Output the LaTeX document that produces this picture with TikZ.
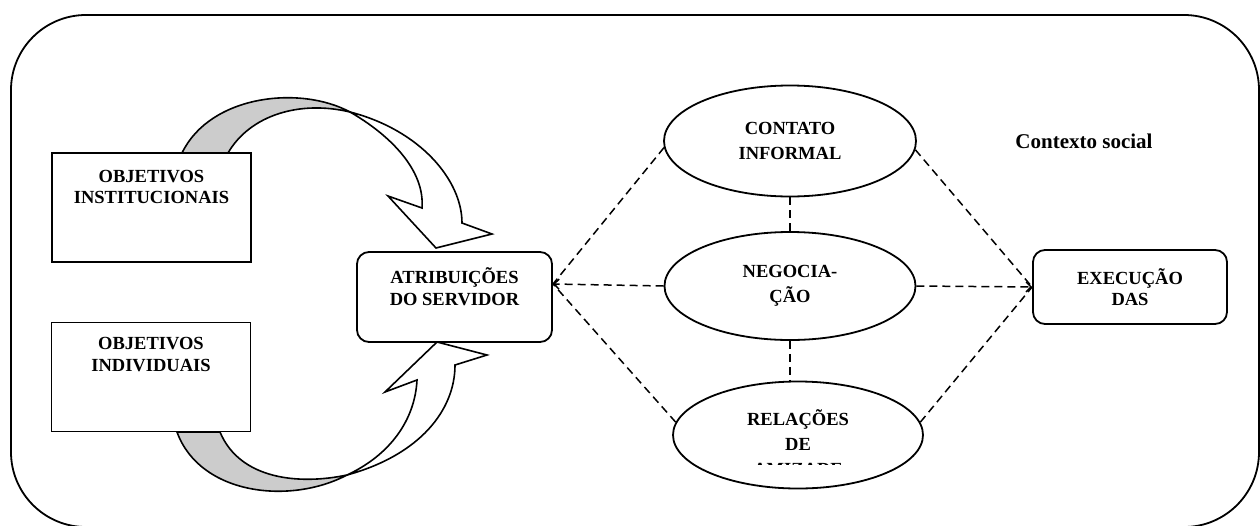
\documentclass[tikz,border=0pt]{standalone}
\usepackage{fontspec}
\setmainfont{Liberation Serif}
\usetikzlibrary{arrows.meta,positioning,shapes.geometric}

\begin{document}
\begin{tikzpicture}
[x=1pt,y=-1pt,line width=1.8pt,
 objbox/.style={draw,rectangle,minimum width=199pt,minimum height=109pt,inner sep=0pt},
 roundbox/.style={draw,rectangle,rounded corners=12pt,inner sep=0pt},
 oval/.style={draw,ellipse,inner sep=0pt},
 caps/.style={font=\fontsize{18.5}{21.5}\selectfont\bfseries,align=center,inner sep=0pt},
 ovalcaps/.style={font=\fontsize{18.5}{25}\selectfont\bfseries,align=center,inner sep=0pt},
 link/.style={dash pattern=on 8pt off 5pt,line width=1.5pt},
 ribbon/.style={draw,fill=black!20,line width=1.6pt},
 arrowbody/.style={draw,fill=white,line width=1.6pt}]
\useasboundingbox (0,0) rectangle (1260,525);
\draw[rounded corners=75pt] (11,15) rectangle (1259,527);

\node[objbox] (inst) at (151.5,207.5) {};
\node[caps, below=17pt of inst.north] (insttxt) {OBJETIVOS\\INSTITUCIONAIS};
\node[objbox] (indiv) at (151,377) {};
\node[caps, below=15pt of indiv.north] (indivtxt) {OBJETIVOS\\INDIVIDUAIS};

\node[roundbox, minimum width=195pt, minimum height=90pt] (atrib) at (454.5,297) {};
\node[caps, below=16pt of atrib.north] (atribtxt) {ATRIBUIÇÕES\\DO SERVIDOR};
\coordinate (atribin) at (553,284);

\node[roundbox, caps, minimum width=194pt, minimum height=74pt] (exec) at (1130,287) {EXECUÇÃO\\DAS};

\node[oval, ovalcaps, minimum width=252pt, minimum height=111pt] (contato) at (790,141) {CONTATO\\INFORMAL};
\node[oval, ovalcaps, minimum width=251pt, minimum height=108pt] (negoc) at (790,286) {NEGOCIA-\\ÇÃO};
\node[oval, minimum width=250pt, minimum height=107pt] (relac) at (798,435) {};
\begin{scope}
\clip (660,380) rectangle (940,464);
\node[ovalcaps] (relactxt) at (798,443) {RELAÇÕES\\DE\\AMIZADE};
\end{scope}

\node[font=\fontsize{21}{25}\selectfont\bfseries, anchor=base, inner sep=0pt] (ctx) at (1084,148) {Contexto social};

\draw[link] (contato.183) -- (atribin);
\draw[link, -{Straight Barb[length=5pt,width=10pt]}] (negoc.west) -- (atribin);
\draw[link] (relac.174) -- (atribin);
\draw[link] (contato.356) -- (exec.west);
\draw[link, -{Straight Barb[length=5pt,width=10pt]}] (negoc.east) -- (exec.west);
\draw[link] (relac.6) -- (exec.west);
\draw[link] (contato.south) -- (negoc.north);
\draw[link] (negoc.south) -- (negoc.south |- relac.north);

\coordinate (tcross) at (350,112);
\filldraw[ribbon] (182,153) .. controls (210,95) and (300,85) .. (tcross)
  .. controls (300,100) and (250,115) .. (228,153) -- cycle;
\filldraw[arrowbody] (tcross) .. controls (420,130) and (462,180) .. (462,223)
  -- (492,234) -- (436,248) -- (388,196) -- (422,208)
  .. controls (425,170) and (390,135) .. (tcross) -- cycle;

\coordinate (bcross) at (347,475);
\filldraw[ribbon] (177,432) .. controls (200,495) and (290,505) .. (bcross)
  .. controls (300,485) and (240,480) .. (220,432) -- cycle;
\filldraw[arrowbody] (bcross) .. controls (420,455) and (455,410) .. (455,365)
  -- (487,355) -- (437,342) -- (385,392) -- (417,380)
  .. controls (415,420) and (390,455) .. (bcross) -- cycle;
\end{tikzpicture}
\end{document}
